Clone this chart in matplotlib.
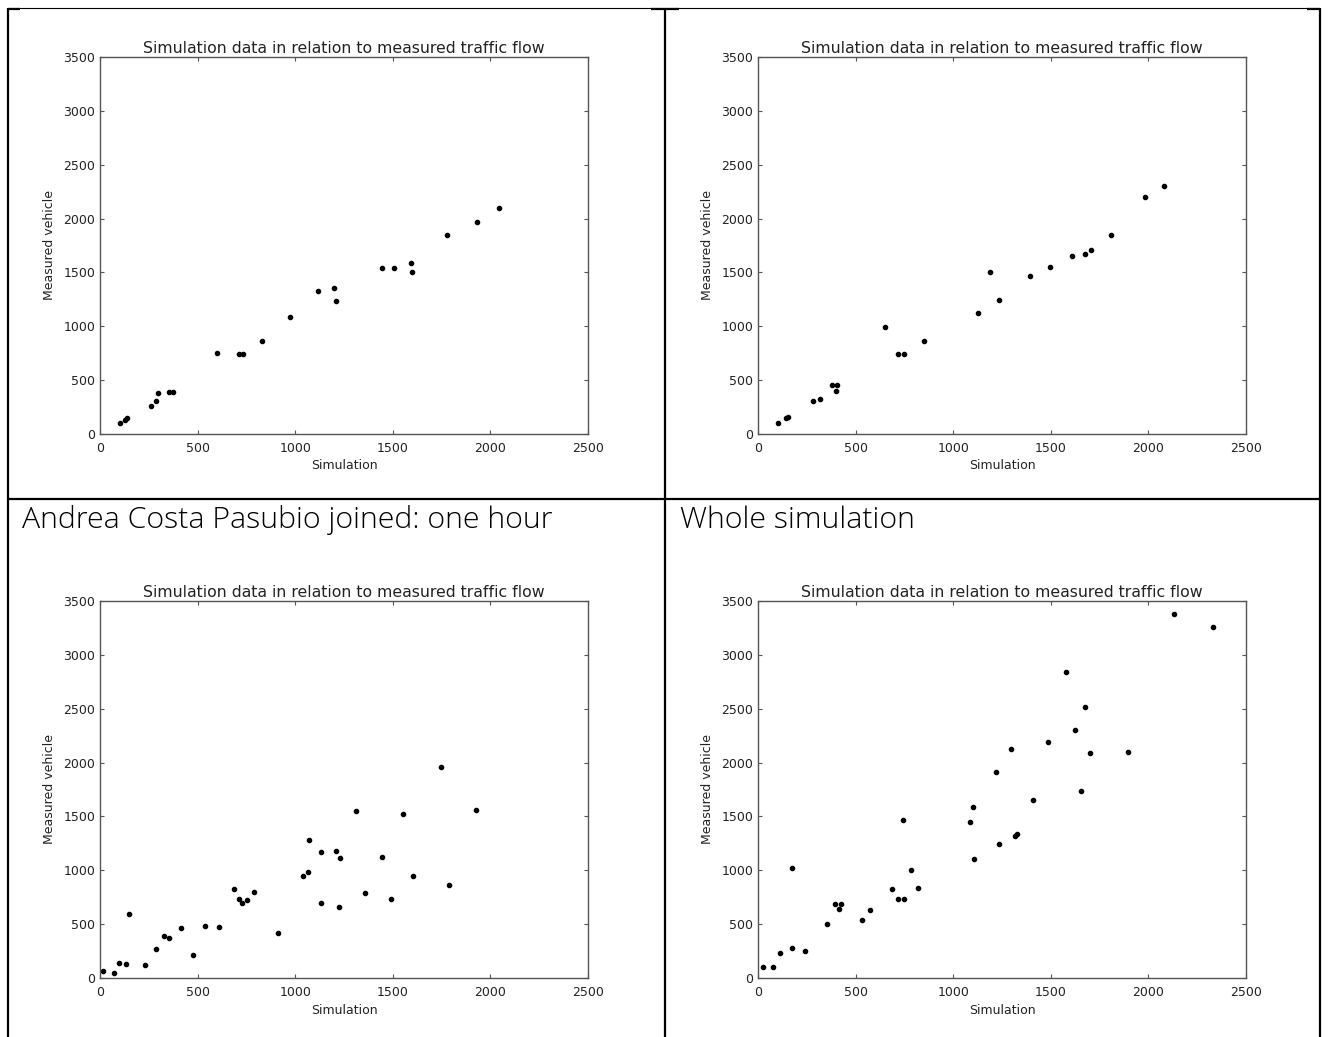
import matplotlib
matplotlib.use("Agg")
import matplotlib.pyplot as plt

sim_a = [100, 130, 139, 261, 287, 298, 354, 376, 599, 712, 732, 830, 973,
         1116, 1201, 1210, 1444, 1505, 1592, 1599, 1779, 1929, 2042]
mes_a = [99, 133, 151, 263, 306, 383, 392, 392, 751, 741, 741, 868, 1084,
         1328, 1353, 1233, 1541, 1541, 1591, 1504, 1844, 1971, 2095]

sim_b = [102, 144, 155, 283, 318, 377, 405, 401, 651, 719, 749, 849, 1126,
         1191, 1235, 1392, 1498, 1607, 1677, 1705, 1807, 1984, 2078]
mes_b = [99, 149, 158, 303, 325, 455, 455, 396, 991, 740, 740, 867, 1127,
         1502, 1248, 1465, 1552, 1648, 1675, 1706, 1843, 2196, 2304]

sim_c = [17, 74, 96, 135, 148, 230, 289, 326, 352, 413, 476, 536, 610, 689,
         712, 725, 752, 788, 914, 1040, 1064, 1073, 1134, 1134, 1208, 1223,
         1232, 1310, 1358, 1444, 1490, 1551, 1603, 1748, 1790, 1927]
mes_c = [62, 49, 138, 128, 595, 122, 269, 391, 371, 460, 210, 486, 477, 828,
         736, 697, 723, 799, 421, 946, 983, 1278, 1170, 693, 1176, 657,
         1114, 1551, 785, 1127, 733, 1518, 946, 1962, 868, 1558]

sim_d = [24, 78, 115, 172, 176, 242, 353, 392, 414, 427, 531, 573, 684, 716,
         749, 743, 782, 819, 1084, 1102, 1108, 1220, 1235, 1298, 1315, 1328,
         1407, 1485, 1577, 1622, 1655, 1675, 1699, 1897, 2130, 2332]
mes_d = [102, 102, 228, 274, 1020, 254, 505, 687, 637, 687, 538, 627, 825,
         736, 736, 1469, 1007, 839, 1449, 1591, 1103, 1908, 1241, 2130, 1314,
         1337, 1651, 2195, 2839, 2304, 1733, 2516, 2090, 2096, 3377, 3258]

titre = "Simulation data in relation to measured traffic flow"
legendes = ["Andrea Costa Pasubio joined: one hour", "Whole simulation"]

W, H = 1328, 1037
fig = plt.figure(figsize=(W / 100, H / 100), dpi=100)

# cadre du tableau (coordonnees en pixels)
fond = fig.add_axes([0, 0, 1, 1])
fond.set_xlim(0, W)
fond.set_ylim(H, 0)
fond.axis("off")
# ligne du haut fine, bouts epais aux coins
fond.plot([8, 1320], [8, 8], color="black", lw=0.8, solid_capstyle="butt")
for xs in ([8, 20], [651, 679], [1307, 1320]):
    fond.plot(xs, [8.5, 8.5], color="black", lw=1.6, solid_capstyle="butt")
for xs, ys in [([8, 1320], [499, 499]),
               ([8, 8], [8, H]), ([665, 665], [8, H]), ([1320, 1320], [8, H])]:
    fond.plot(xs, ys, color="black", lw=1.6, solid_capstyle="butt")
fond.text(22, 528, legendes[0], fontsize=21.8, family="Open Sans",
          fontweight="light", va="baseline", ha="left")
fond.text(680, 528, legendes[1], fontsize=21.8, family="Open Sans",
          fontweight="light", va="baseline", ha="left")


def nuage(gauche, haut, sim, mes):
    ax = fig.add_axes([gauche / W, 1 - (haut + 377) / H, 488 / W, 377 / H])
    ax.plot(sim, mes, "o", color="black", ms=3.0, mec="black")
    ax.set_xlim(0, 2500)
    ax.set_ylim(0, 3500)
    ax.set_xticks(range(0, 2501, 500))
    ax.set_yticks(range(0, 3501, 500))
    ax.tick_params(direction="in", length=3, width=0.8, color="#555",
                   top=True, right=True, labelsize=9, labelcolor="#222")
    ax.tick_params(axis="x", pad=6)
    ax.tick_params(axis="y", pad=3.5)
    for s in ax.spines.values():
        s.set_color("#555")
        s.set_linewidth(1.0)
    ax.set_title(titre, fontsize=11.3, color="#222", pad=3)
    ax.set_xlabel("Simulation", fontsize=9, color="#222", labelpad=3)
    ax.set_ylabel("Measured vehicle", fontsize=9, color="#222", labelpad=5)
    return ax


nuage(100, 57, sim_a, mes_a)
nuage(758, 57, sim_b, mes_b)
nuage(100, 601, sim_c, mes_c)
nuage(758, 601, sim_d, mes_d)

fig.savefig("out.png", dpi=100)
